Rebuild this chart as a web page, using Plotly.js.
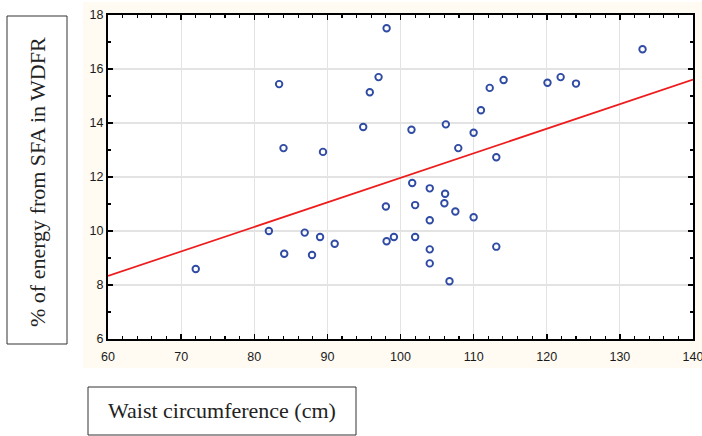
<!DOCTYPE html>
<html>
<head>
<meta charset="utf-8">
<script src="https://cdn.plot.ly/plotly-3.0.1.min.js"></script>
<style>
  html, body { margin: 0; padding: 0; background: #ffffff; }
  #chart { width: 702px; height: 436px; }
</style>
</head>
<body>
<div id="chart"></div>
<script>
// ---- Data ----
var waist = [72, 82, 83.4, 84.0, 84.1, 86.9, 87.9, 89.0, 89.4, 91.0,
             94.9, 95.8, 97.0, 98.1, 98.0, 98.1, 99.1, 101.5, 101.6, 102.0,
             102.0, 104.0, 104.0, 104.0, 104.0, 106.2, 106.1, 106.0, 106.7, 107.5,
             107.9, 110.0, 110.0, 111.0, 112.2, 113.1, 113.1, 114.1, 120.1, 121.9,
             124.0, 133.1];
var sfaEnergy = [8.59, 10.0, 15.44, 13.07, 9.16, 9.94, 9.11, 9.78, 12.93, 9.53,
                 13.85, 15.14, 15.70, 17.51, 10.91, 9.62, 9.78, 13.75, 11.78, 10.96,
                 9.78, 11.58, 10.40, 9.32, 8.80, 13.95, 11.38, 11.03, 8.14, 10.72,
                 13.07, 13.64, 10.51, 14.47, 15.30, 12.73, 9.42, 15.59, 15.49, 15.70,
                 15.46, 16.73];
// Fitted regression line
var fitIntercept = 2.88;
var fitSlope = 0.0909;
var fitX = [60, 140];
var fitY = fitX.map(function (x) { return fitIntercept + fitSlope * x; });

var xTitle = "Waist circumference (cm)";
var yTitle = "% of energy from SFA in WDFR";

// ---- Layout helpers (pixel -> paper) ----
var L = 108, R = 693, T = 15, B = 339;
function px(x) { return (x - L) / (R - L); }
function py(y) { return (B - y) / (B - T); }

var traces = [
  {
    type: 'scatter', mode: 'markers',
    x: waist, y: sfaEnergy,
    marker: { symbol: 'circle-open', size: 6.5, color: '#2f4ba3', line: { width: 1.9, color: '#2f4ba3' } },
    hoverinfo: 'x+y', showlegend: false
  },
  {
    type: 'scatter', mode: 'lines',
    x: fitX, y: fitY,
    line: { color: '#ee1c1c', width: 1.7 },
    showlegend: false
  }
];

var axisCommon = {
  showline: true, linecolor: '#000000', linewidth: 2, mirror: 'allticks',
  ticks: 'inside', ticklen: 5, tickwidth: 1.5, tickcolor: '#000000',
  showgrid: true, gridcolor: '#e3e3e3', gridwidth: 1.2,
  zeroline: false, ticklabeloverflow: 'allow',
  tickfont: { family: 'Liberation Sans, Arial, sans-serif', size: 12.5, color: '#1a1a1a' }
};

var layout = {
  width: 702, height: 436,
  margin: { l: L, r: 702 - R, t: T, b: 436 - B, pad: 0 },
  paper_bgcolor: '#ffffff',
  plot_bgcolor: 'rgba(0,0,0,0)',
  showlegend: false,
  xaxis: Object.assign({}, axisCommon, {
    range: [60, 140], dtick: 10, tick0: 60, ticklabelstandoff: 5,
    minor: { dtick: 2, ticks: 'inside', ticklen: 3, tickwidth: 1.2, tickcolor: '#000000', showgrid: false }
  }),
  yaxis: Object.assign({}, axisCommon, {
    range: [6, 18], dtick: 2, tick0: 6,
    minor: { dtick: 1, ticks: 'inside', ticklen: 3, tickwidth: 1.2, tickcolor: '#000000', showgrid: false }
  }),
  shapes: [
    { type: 'rect', xref: 'paper', yref: 'paper', layer: 'below',
      x0: px(83), x1: px(702), y0: py(368), y1: py(2),
      fillcolor: '#fffaf2', line: { width: 0 } },
    { type: 'rect', xref: 'paper', yref: 'paper', layer: 'below',
      x0: 0, x1: 1, y0: 0, y1: 1,
      fillcolor: '#ffffff', line: { width: 0 } },
    { type: 'rect', xref: 'paper', yref: 'paper',
      x0: px(88), x1: px(356), y0: py(435), y1: py(387),
      fillcolor: 'rgba(0,0,0,0)', line: { color: '#333333', width: 1 } },
    { type: 'rect', xref: 'paper', yref: 'paper',
      x0: px(7), x1: px(67), y0: py(344), y1: py(16),
      fillcolor: 'rgba(0,0,0,0)', line: { color: '#333333', width: 1 } }
  ],
  annotations: [
    { xref: 'paper', yref: 'paper', x: px(222), y: py(410),
      xanchor: 'center', yanchor: 'middle', showarrow: false,
      text: xTitle,
      font: { family: 'Liberation Serif, Times New Roman, serif', size: 22, color: '#222222' } },
    { xref: 'paper', yref: 'paper', x: px(37), y: py(182),
      xanchor: 'center', yanchor: 'middle', showarrow: false, textangle: -90,
      text: yTitle,
      font: { family: 'Liberation Serif, Times New Roman, serif', size: 22, color: '#222222' } }
  ]
};

Plotly.newPlot('chart', traces, layout, { displayModeBar: false, staticPlot: true });
</script>
</body>
</html>
